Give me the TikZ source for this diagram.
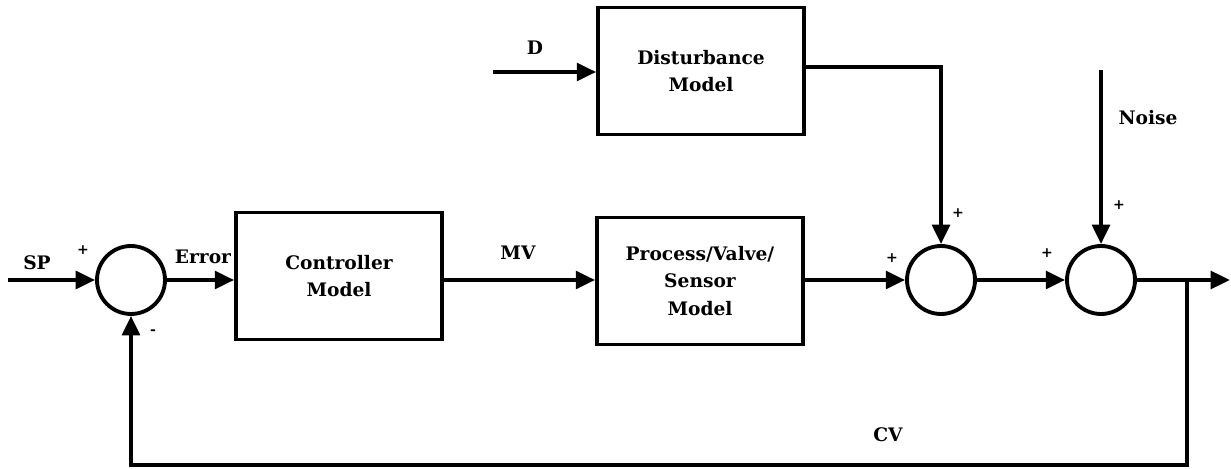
\documentclass[tikz,border=0pt]{standalone}
\usepackage{fontspec}
\setmainfont{DejaVu Serif}
\usetikzlibrary{arrows.meta}
\begin{document}
\begin{tikzpicture}[x=0.02cm,y=-0.02cm,
  every node/.style={font=\fontsize{10.6}{15.5}\selectfont\bfseries},
  blk/.style={draw,line width=2.2pt,minimum width=4.12cm,minimum height=2.54cm,align=center,inner sep=0pt},
  sumnode/.style={draw,circle,line width=2.2pt,minimum size=1.36cm,inner sep=0pt},
  sig/.style={line width=2.2pt,-{Triangle[length=11pt,width=10pt]}},
  lbl/.style={inner sep=0pt},
  sgn/.style={inner sep=0pt,font=\fontsize{8}{8}\selectfont\bfseries}]
\useasboundingbox (0,0) rectangle (1231,469);
% blocks
\node[sumnode] (s1) at (131,280) {};
\node[blk] (ctrl) at (339,276) {Controller\\Model};
\node[blk] (proc) at (700,281) {Process/Valve/\\Sensor\\Model};
\node[blk] (dist) at (701,71) {Disturbance\\Model};
\node[sumnode] (s2) at (941,280) {};
\node[sumnode] (s3) at (1101,280) {};
% free ends and corners
\coordinate (sp) at (8,280);
\coordinate (d) at (493,72);
\coordinate (noise) at (1101,70);
\coordinate (out) at (1230,280);
\coordinate (br) at (1187,280);
\coordinate (fb) at (1187,465);
\coordinate (fbl) at (131,465);
\coordinate (dc) at (941,67);
% connectors
\draw[sig] (sp) -- (s1.west);
\draw[sig] (s1.east) -- (s1.east -| ctrl.west);
\draw[sig] (ctrl.east |- br) -- (proc.west |- br);
\draw[sig] (proc.east |- br) -- (s2.west);
\draw[sig] (s2.east) -- (s3.west);
\draw[sig] (s3.east) -- (out);
\draw[sig] (d) -- (d -| dist.west);
\draw[sig] (dist.east |- dc) -- (dc) -- (s2.north);
\draw[sig] (noise) -- (s3.north);
\draw[sig] (br) -- (fb) -- (fbl) -- (s1.south);
% labels
\node[lbl] (lsp) at (37,263) {SP};
\node[sgn] (p1) at (83,250) {+};
\node[sgn] (m1) at (153,332) {-};
\node[lbl] (lerr) at (203,257) {Error};
\node[lbl] (lmv) at (518,253) {MV};
\node[lbl] (ld) at (535,48) {D};
\node[sgn] (p2) at (892,258) {+};
\node[sgn] (p3) at (958,213) {+};
\node[sgn] (p4) at (1047,253) {+};
\node[sgn] (p5) at (1119,205) {+};
\node[lbl] (lnoise) at (1148,118) {Noise};
\node[lbl] (lcv) at (888,435) {CV};
\end{tikzpicture}
\end{document}
